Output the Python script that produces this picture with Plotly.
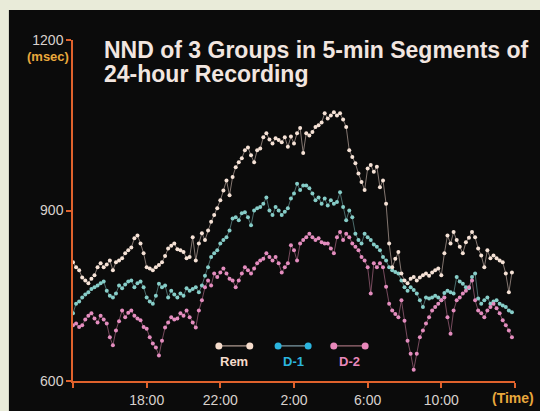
import plotly.graph_objects as go

# NND (msec) per 10-min step, starting 14:00
rem = [809, 800, 795, 782, 777, 772, 780, 786, 800, 807, 800, 805, 812, 795, 809, 812,
       816, 825, 830, 835, 851, 856, 842, 825, 800, 798, 795, 800, 804, 809, 820, 833,
       838, 842, 832, 830, 827, 816, 818, 853, 812, 842, 860, 848, 865, 880, 892, 904,
       918, 935, 953, 927, 959, 976, 985, 992, 1006, 1011, 997, 985, 1006, 1009, 1029, 1036,
       1025, 1018, 1027, 1024, 1020, 1029, 1012, 1030, 1018, 1036, 1045, 1001, 1036, 1032, 1038, 1047,
       1050, 1055, 1071, 1062, 1067, 1073, 1067, 1071, 1060, 1047, 1006, 994, 983, 965, 950, 936,
       974, 980, 968, 977, 941, 953, 912, 842, 800, 815, 827, 789, 777, 772, 780, 783,
       777, 782, 786, 789, 785, 791, 795, 798, 786, 825, 856, 842, 862, 848, 836, 825,
       844, 852, 862, 853, 833, 821, 800, 830, 816, 821, 816, 812, 809, 789, 756, 791]

d1 = [719, 736, 740, 747, 752, 756, 762, 765, 768, 772, 775, 759, 750, 747, 754, 768,
      763, 770, 775, 777, 765, 772, 775, 765, 747, 740, 736, 750, 771, 765, 768, 747,
      759, 752, 747, 754, 750, 763, 759, 762, 765, 756, 768, 785, 800, 818, 825, 830,
      842, 848, 853, 865, 886, 888, 883, 895, 897, 888, 874, 900, 904, 906, 912, 923,
      900, 892, 906, 900, 892, 898, 904, 921, 930, 947, 936, 944, 944, 939, 930, 918,
      923, 912, 921, 909, 918, 912, 915, 932, 906, 883, 900, 888, 859, 848, 842, 859,
      853, 848, 840, 836, 830, 818, 812, 800, 795, 792, 789, 777, 765, 759, 765, 760,
      754, 742, 730, 747, 745, 747, 750, 747, 742, 755, 759, 756, 754, 783, 775, 771,
      765, 763, 783, 789, 745, 736, 742, 747, 736, 740, 742, 736, 733, 730, 724, 721]

d2 = [698, 701, 695, 698, 708, 715, 719, 710, 703, 715, 708, 701, 677, 663, 689, 705,
      724, 712, 720, 724, 715, 710, 707, 695, 692, 677, 666, 659, 645, 671, 694, 703,
      712, 708, 710, 719, 715, 724, 712, 703, 694, 724, 742, 765, 777, 768, 789, 783,
      791, 798, 789, 780, 777, 765, 777, 789, 800, 795, 789, 798, 807, 812, 815, 825,
      818, 812, 818, 807, 791, 800, 807, 839, 830, 812, 842, 848, 853, 859, 853, 848,
      851, 844, 842, 842, 833, 825, 853, 862, 848, 859, 853, 842, 836, 830, 818, 812,
      800, 754, 807, 800, 807, 800, 766, 736, 724, 718, 712, 742, 706, 671, 648, 620,
      648, 677, 689, 701, 712, 724, 730, 736, 742, 747, 712, 683, 724, 742, 747, 754,
      759, 765, 777, 742, 724, 719, 712, 724, 730, 736, 728, 719, 707, 698, 689, 677]

hours = [i / 6 for i in range(len(rem))]  # hours elapsed since 14:00

tick_hours = [0, 4, 8, 12, 16, 20, 24]
tick_labels = ["", "18:00", "22:00", "2:00", "6:00", "10:00", ""]
y_ticks = [600, 900, 1200]

series = [
    ("D-1", d1, "#86cdc8", "rgba(110,160,160,0.8)", "#2bb5df", "rgba(120,150,160,1)"),
    ("D-2", d2, "#e48dbf", "rgba(180,110,140,0.8)", "#e888bb", "rgba(160,110,120,1)"),
    ("Rem", rem, "#f6e2d6", "rgba(200,180,170,0.8)", "#f6dccb", "rgba(170,150,140,1)"),
]

AXIS = "#e0622c"
LABEL = "#d9d2ce"
UNIT = "#e9a83c"
FONT = "Liberation Sans, Arial, sans-serif"

fig = go.Figure()
for name, vals, mcol, lcol, _, _ in series:
    fig.add_trace(go.Scatter(
        x=hours, y=vals, mode="lines+markers", name=name,
        line=dict(color=lcol, width=0.8),
        marker=dict(color=mcol, size=4),
        showlegend=False,
    ))

# Legend keys under the curves: dot-line-dot with caption beneath
legend_pos = {"Rem": (0.330, 0.400), "D-1": (0.464, 0.532), "D-2": (0.590, 0.661)}
for name, vals, mcol, lcol, kcol, klcol in series:
    x0, x1 = legend_pos[name]
    fig.add_trace(go.Scatter(
        x=[x0, x1], y=[0.103, 0.103], xaxis="x2", yaxis="y2",
        mode="lines+markers", line=dict(color=klcol, width=1.3),
        marker=dict(color=kcol, size=7), showlegend=False, hoverinfo="skip",
    ))
    fig.add_annotation(
        x=(x0 + x1) / 2, y=0.056, xref="x2", yref="y2", text="<b>%s</b>" % name,
        xanchor="center", yanchor="middle",
        showarrow=False, font=dict(family=FONT, size=13, color=kcol),
    )

fig.add_shape(type="rect", xref="paper", yref="paper",
              x0=-0.145, x1=1.2, y0=-0.3, y1=1.088,
              fillcolor="#0b0b0b", line=dict(width=0), layer="below")

title_lines = ["NND of 3 Groups in 5-min Segments of", "24-hour Recording"]
for line, ypx in zip(title_lines, (50, 74)):
    fig.add_annotation(
        x=0.0656, y=(381 - ypx) / 341, xref="paper", yref="paper",
        xanchor="left", yanchor="middle", showarrow=False,
        text="<b>%s</b>" % line,
        font=dict(family=FONT, size=23, color="#f2e6e0"),
    )
fig.add_annotation(x=-0.057, y=0.953, xref="paper", yref="paper", showarrow=False,
                   xanchor="center", yanchor="middle",
                   text="<b>(msec)</b>", font=dict(family=FONT, size=13, color=UNIT))
fig.add_annotation(x=0.995, y=-0.05, xref="paper", yref="paper", showarrow=False,
                   xanchor="center", yanchor="middle",
                   text="<b>(Time)</b>", font=dict(family=FONT, size=14, color=UNIT))

fig.update_layout(
    width=540, height=411,
    margin=dict(l=73, r=25, t=40, b=30),
    paper_bgcolor="#e9ebd9",
    plot_bgcolor="#0b0b0b",
    font=dict(family=FONT, size=14, color=LABEL),
    xaxis=dict(range=[0, 24], tickvals=tick_hours, ticktext=tick_labels,
               showgrid=False, zeroline=False, showline=True, linecolor=AXIS,
               linewidth=1.5, ticks="outside", ticklen=5, tickcolor=AXIS,
               tickwidth=1.5, automargin=False,
               tickfont=dict(color=LABEL, size=14)),
    yaxis=dict(range=[600, 1200], tickvals=y_ticks, showgrid=False, zeroline=False,
               showline=True, linecolor=AXIS, linewidth=1.5, ticks="outside",
               ticklen=5, tickcolor=AXIS, tickwidth=1.5, automargin=False,
               tickfont=dict(color=LABEL, size=14)),
    xaxis2=dict(range=[0, 1], overlaying="x", visible=False),
    yaxis2=dict(range=[0, 1], overlaying="y", visible=False),
)

fig.write_html("out.html")
